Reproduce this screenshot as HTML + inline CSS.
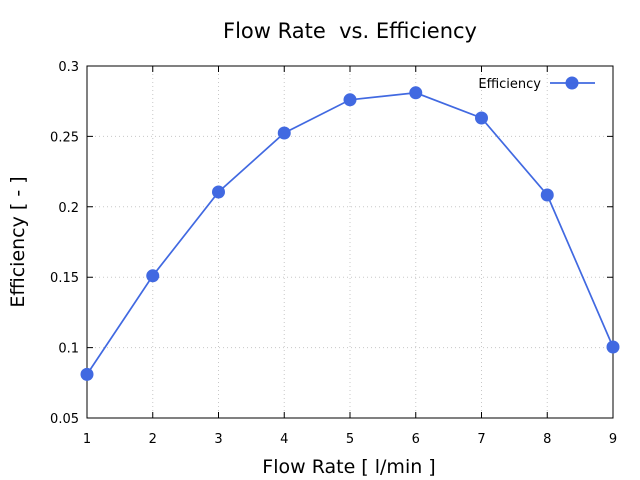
<!DOCTYPE html>
<html><head><meta charset="utf-8"><style>
html,body{margin:0;padding:0;background:#fff;}
svg{display:block;font-family:"DejaVu Sans","Liberation Sans",sans-serif;}
</style></head><body>
<svg width="640" height="480" viewBox="0 0 640 480">
<rect width="640" height="480" fill="#fff"/>
<g stroke="#c8c8c8" stroke-width="1" stroke-dasharray="1,3">
<line x1="152.75" y1="66" x2="152.75" y2="418"/>
<line x1="218.5" y1="66" x2="218.5" y2="418"/>
<line x1="284.25" y1="66" x2="284.25" y2="418"/>
<line x1="350" y1="66" x2="350" y2="418"/>
<line x1="415.75" y1="66" x2="415.75" y2="418"/>
<line x1="481.5" y1="66" x2="481.5" y2="418"/>
<line x1="547.25" y1="66" x2="547.25" y2="418"/>
<line x1="87" y1="136.4" x2="613" y2="136.4"/>
<line x1="87" y1="206.8" x2="613" y2="206.8"/>
<line x1="87" y1="277.2" x2="613" y2="277.2"/>
<line x1="87" y1="347.6" x2="613" y2="347.6"/>
</g>
<g stroke="#000" stroke-width="1">
<rect x="87" y="66" width="526" height="352" fill="none"/>
<path d="M87,418v-6M152.75,418v-6M218.5,418v-6M284.25,418v-6M350,418v-6M415.75,418v-6M481.5,418v-6M547.25,418v-6M613,418v-6
M87,66v6M152.75,66v6M218.5,66v6M284.25,66v6M350,66v6M415.75,66v6M481.5,66v6M547.25,66v6M613,66v6
M87,66h6M87,136.4h6M87,206.8h6M87,277.2h6M87,347.6h6M87,418h6
M613,66h-6M613,136.4h-6M613,206.8h-6M613,277.2h-6M613,347.6h-6M613,418h-6"/>
</g>
<g font-size="13" fill="#000" text-anchor="end">
<text x="79" y="71">0.3</text>
<text x="79" y="141.4">0.25</text>
<text x="79" y="211.8">0.2</text>
<text x="79" y="282.2">0.15</text>
<text x="79" y="352.6">0.1</text>
<text x="79" y="423">0.05</text>
</g>
<g font-size="13" fill="#000" text-anchor="middle">
<text x="87" y="443">1</text><text x="152.75" y="443">2</text><text x="218.5" y="443">3</text>
<text x="284.25" y="443">4</text><text x="350" y="443">5</text><text x="415.75" y="443">6</text>
<text x="481.5" y="443">7</text><text x="547.25" y="443">8</text><text x="613" y="443">9</text>
</g>
<text x="350" y="38" font-size="21" text-anchor="middle" xml:space="preserve">Flow Rate  vs. Efficiency</text>
<text x="349" y="473" font-size="19" text-anchor="middle">Flow Rate [ l/min ]</text>
<text transform="translate(24,242) rotate(-90)" font-size="19" text-anchor="middle">Efficiency [ - ]</text>
<polyline fill="none" stroke="#4169e1" stroke-width="1.7" points="87,374.4 152.75,275.8 218.5,192 284.25,133 350,99.8 415.75,92.8 481.5,118 547.25,195 613,347"/>
<g fill="#4169e1">
<circle cx="87" cy="374.4" r="6.5"/><circle cx="152.75" cy="275.8" r="6.5"/><circle cx="218.5" cy="192" r="6.5"/>
<circle cx="284.25" cy="133" r="6.5"/><circle cx="350" cy="99.8" r="6.5"/><circle cx="415.75" cy="92.8" r="6.5"/>
<circle cx="481.5" cy="118" r="6.5"/><circle cx="547.25" cy="195" r="6.5"/><circle cx="613" cy="347" r="6.5"/>
<circle cx="572" cy="83" r="6.5"/>
</g>
<line x1="550" y1="83" x2="595" y2="83" stroke="#4169e1" stroke-width="1.7"/>
<text x="541" y="88" font-size="13" text-anchor="end">Efficiency</text>
</svg>
</body></html>
